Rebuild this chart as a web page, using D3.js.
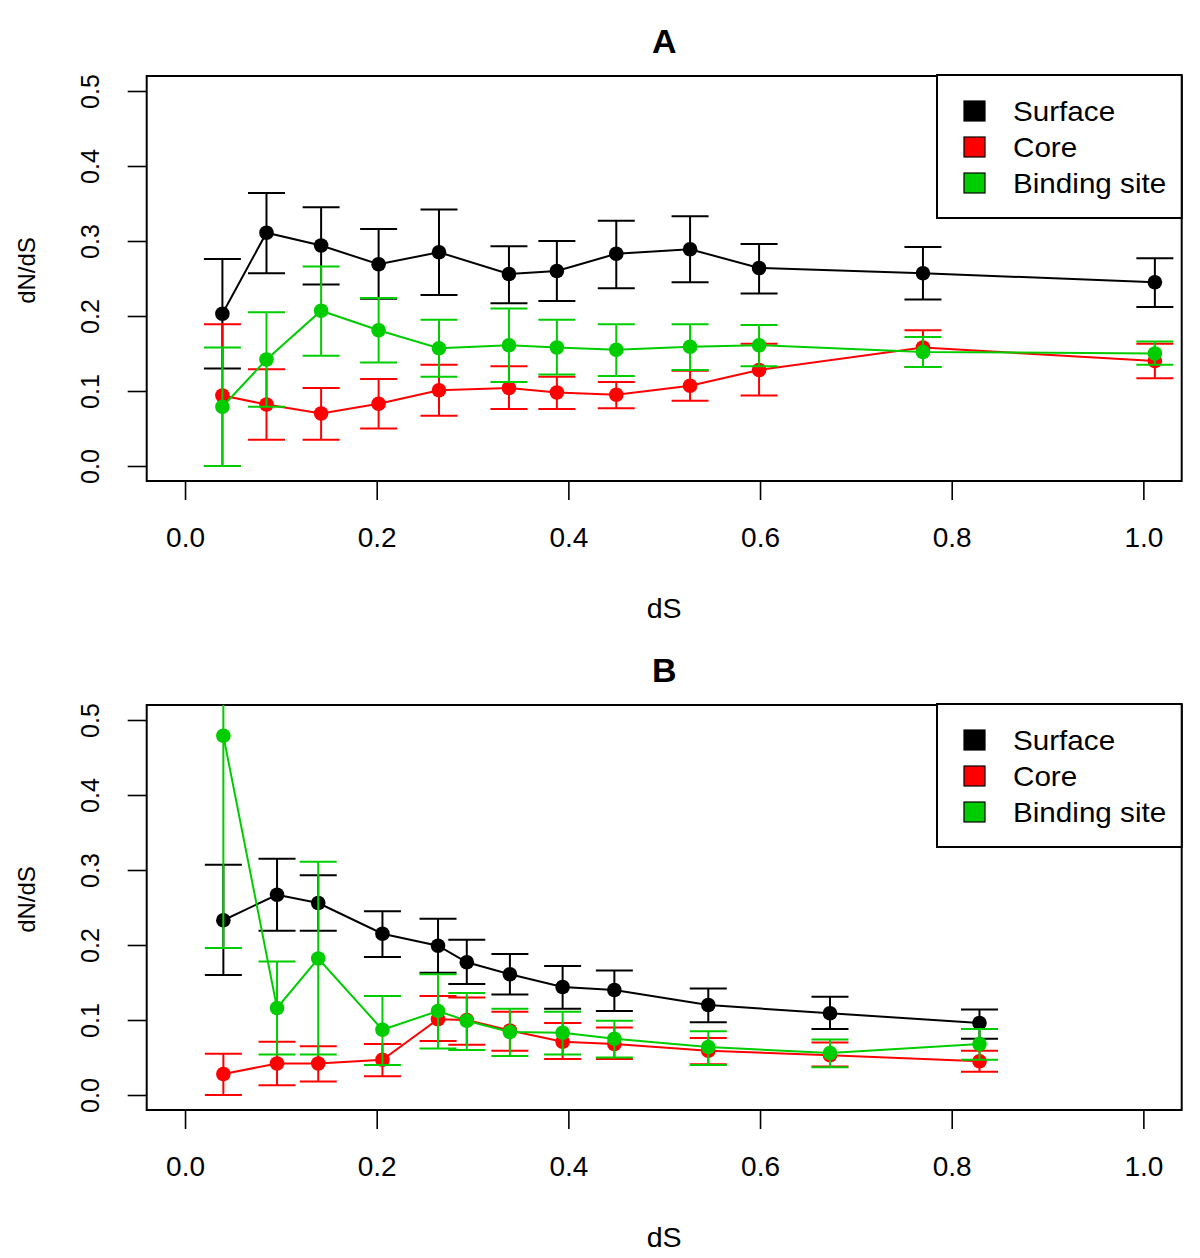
<!DOCTYPE html>
<html>
<head>
<meta charset="utf-8">
<script src="https://cdn.jsdelivr.net/npm/d3@7/dist/d3.min.js"></script>
<style>
  html, body { margin: 0; padding: 0; background: #fff; }
  svg { display: block; font-family: "Liberation Sans", Arial, Helvetica, sans-serif; }
</style>
</head>
<body>
<svg id="chart" width="1200" height="1258"></svg>
<script>
// ---------------- DATA ----------------
const seriesNames = ["Surface", "Core", "Binding site"];
const seriesColors = ["#000000", "#ff0000", "#00cd00"];
const xTicks = [0.0, 0.2, 0.4, 0.6, 0.8, 1.0];
const yTicks = [0.0, 0.1, 0.2, 0.3, 0.4, 0.5];

// Panel A
const dsA = [0.039, 0.085, 0.142, 0.202, 0.265, 0.338, 0.388, 0.450, 0.527, 0.599, 0.770, 1.012];
const surfaceA    = [0.203, 0.311, 0.294, 0.269, 0.285, 0.256, 0.260, 0.283, 0.289, 0.264, 0.257, 0.245];
const surfaceAHi  = [0.276, 0.364, 0.345, 0.316, 0.342, 0.293, 0.300, 0.327, 0.333, 0.296, 0.292, 0.277];
const surfaceALo  = [0.130, 0.257, 0.242, 0.223, 0.228, 0.217, 0.220, 0.237, 0.245, 0.230, 0.222, 0.212];
const coreA       = [0.094, 0.082, 0.070, 0.083, 0.101, 0.104, 0.098, 0.095, 0.107, 0.128, 0.158, 0.140];
const coreAHi     = [0.189, 0.129, 0.104, 0.116, 0.135, 0.133, 0.119, 0.112, 0.127, 0.163, 0.181, 0.163];
const coreALo     = [0.000, 0.035, 0.035, 0.050, 0.067, 0.076, 0.076, 0.077, 0.087, 0.094, 0.132, 0.117];
const bindingA    = [0.079, 0.142, 0.207, 0.181, 0.157, 0.161, 0.158, 0.155, 0.159, 0.161, 0.152, 0.150];
const bindingAHi  = [0.158, 0.205, 0.266, 0.224, 0.195, 0.210, 0.195, 0.189, 0.189, 0.188, 0.172, 0.166];
const bindingALo  = [0.000, 0.079, 0.147, 0.138, 0.119, 0.112, 0.122, 0.120, 0.128, 0.133, 0.132, 0.135];

// Panel B
const dsB = [0.040, 0.096, 0.139, 0.206, 0.264, 0.294, 0.339, 0.394, 0.448, 0.546, 0.673, 0.829];
const surfaceB    = [0.233, 0.267, 0.256, 0.215, 0.199, 0.177, 0.161, 0.144, 0.140, 0.120, 0.109, 0.096];
const surfaceBHi  = [0.307, 0.315, 0.293, 0.245, 0.235, 0.207, 0.188, 0.172, 0.166, 0.142, 0.131, 0.114];
const surfaceBLo  = [0.160, 0.219, 0.219, 0.184, 0.163, 0.148, 0.134, 0.115, 0.112, 0.097, 0.088, 0.075];
const coreB       = [0.028, 0.042, 0.042, 0.047, 0.101, 0.100, 0.086, 0.071, 0.068, 0.059, 0.053, 0.045];
const coreBHi     = [0.055, 0.071, 0.065, 0.068, 0.132, 0.130, 0.111, 0.096, 0.090, 0.076, 0.070, 0.059];
const coreBLo     = [0.000, 0.013, 0.018, 0.025, 0.072, 0.067, 0.059, 0.048, 0.048, 0.041, 0.038, 0.031];
const bindingB    = [0.479, 0.116, 0.182, 0.087, 0.112, 0.099, 0.084, 0.083, 0.075, 0.064, 0.056, 0.068];
const bindingBHi  = [0.761, 0.178, 0.311, 0.132, 0.161, 0.136, 0.115, 0.111, 0.099, 0.085, 0.074, 0.088];
const bindingBLo  = [0.196, 0.054, 0.054, 0.040, 0.062, 0.060, 0.052, 0.054, 0.050, 0.040, 0.037, 0.047];

// ---------------- DRAW ----------------
const svg = d3.select("#chart");
const left = 146.7, right = 1181.7;

const panels = [
  { title: "A", top: 76, bottom: 481, x: dsA,
    series: [[surfaceA, surfaceAHi, surfaceALo], [coreA, coreAHi, coreALo], [bindingA, bindingAHi, bindingALo]] },
  { title: "B", top: 705, bottom: 1110, x: dsB,
    series: [[surfaceB, surfaceBHi, surfaceBLo], [coreB, coreBHi, coreBLo], [bindingB, bindingBHi, bindingBLo]] }
];

panels.forEach((p, pi) => {
  const x = d3.scaleLinear().domain([-0.04, 1.04]).range([left, right]);
  const y = d3.scaleLinear().domain([-0.02, 0.52]).range([p.bottom, p.top]);
  const g = svg.append("g");

  const clipId = "clip" + pi;
  svg.append("clipPath").attr("id", clipId)
    .append("rect").attr("x", left).attr("y", p.top).attr("width", right - left).attr("height", p.bottom - p.top);

  // axes
  const xAxis = d3.axisBottom(x).tickValues(xTicks).tickFormat(d3.format(".1f")).tickSize(19).tickPadding(27);
  const gx = g.append("g").attr("transform", `translate(0,${p.bottom})`).call(xAxis);
  gx.select(".domain").remove();
  gx.selectAll(".tick line").attr("stroke", "#000").attr("stroke-width", 1.6);
  gx.selectAll(".tick text").attr("font-size", 28).attr("fill", "#000")
    .attr("font-family", "'Liberation Sans', Arial, sans-serif");

  const yAxis = d3.axisLeft(y).tickValues(yTicks).tickFormat(d3.format(".1f")).tickSize(19).tickPadding(0);
  const gy = g.append("g").attr("transform", `translate(${left},0)`).call(yAxis);
  gy.select(".domain").remove();
  gy.selectAll(".tick line").attr("stroke", "#000").attr("stroke-width", 1.6);
  gy.selectAll(".tick text")
    .attr("font-size", 25).attr("fill", "#000")
    .attr("x", null).attr("dy", null)
    .attr("text-anchor", "middle")
    .attr("transform", "translate(-56,0) rotate(-90)")
    .attr("dy", "0.35em");

  // box
  g.append("rect").attr("x", left).attr("y", p.top)
    .attr("width", right - left).attr("height", p.bottom - p.top)
    .attr("fill", "none").attr("stroke", "#000").attr("stroke-width", 2);

  // titles and labels
  g.append("text").attr("transform", `translate(${(left + right) / 2},${p.top - 23})`)
    .attr("text-anchor", "middle").attr("font-size", 34).attr("font-weight", "bold").text(p.title);
  g.append("text").attr("transform", `translate(${(left + right) / 2},${p.bottom + 137})`)
    .attr("text-anchor", "middle").attr("font-size", 28.5).text("dS");
  g.append("text")
    .attr("transform", `translate(35,${(p.top + p.bottom) / 2 - 8}) rotate(-90)`)
    .attr("text-anchor", "middle").attr("font-size", 24).text("dN/dS");

  // data
  const plot = g.append("g").attr("clip-path", `url(#${clipId})`);
  const line = d3.line().x(d => x(d.x)).y(d => y(d.v));
  p.series.forEach((s, si) => {
    const col = seriesColors[si];
    const pts = p.x.map((xv, i) => ({ x: xv, v: s[0][i], hi: s[1][i], lo: s[2][i] }));
    const sg = plot.append("g");
    sg.append("path").datum(pts).attr("d", line)
      .attr("fill", "none").attr("stroke", col).attr("stroke-width", 2);
    // error bars
    const eb = sg.selectAll(".eb").data(pts).enter().append("g");
    eb.append("line").attr("x1", d => x(d.x)).attr("x2", d => x(d.x))
      .attr("y1", d => y(d.hi)).attr("y2", d => y(d.lo))
      .attr("stroke", col).attr("stroke-width", 2);
    eb.append("line").attr("x1", d => x(d.x) - 18.5).attr("x2", d => x(d.x) + 18.5)
      .attr("y1", d => y(d.hi)).attr("y2", d => y(d.hi))
      .attr("stroke", col).attr("stroke-width", 2);
    eb.append("line").attr("x1", d => x(d.x) - 18.5).attr("x2", d => x(d.x) + 18.5)
      .attr("y1", d => y(d.lo)).attr("y2", d => y(d.lo))
      .attr("stroke", col).attr("stroke-width", 2);
    sg.selectAll("circle").data(pts).enter().append("circle")
      .attr("cx", d => x(d.x)).attr("cy", d => y(d.v)).attr("r", 7.3)
      .attr("fill", col);
  });

  // legend
  const lx = 937, ly = p.top - 1, lw = right - lx, lh = 143;
  const lg = g.append("g");
  lg.append("rect").attr("x", lx).attr("y", ly).attr("width", lw).attr("height", lh)
    .attr("fill", "#fff").attr("stroke", "#000").attr("stroke-width", 2);
  seriesNames.forEach((name, i) => {
    const cy = ly + 36 + i * 36;
    lg.append("rect").attr("x", 964).attr("y", cy - 10).attr("width", 21).attr("height", 20)
      .attr("fill", seriesColors[i]).attr("stroke", "#000").attr("stroke-width", 1.2);
    lg.append("text").attr("transform", `translate(1013,${cy}) scale(1.04,1)`).attr("dy", "0.35em")
      .attr("font-size", 28.5).text(name);
  });
});
</script>
</body>
</html>
